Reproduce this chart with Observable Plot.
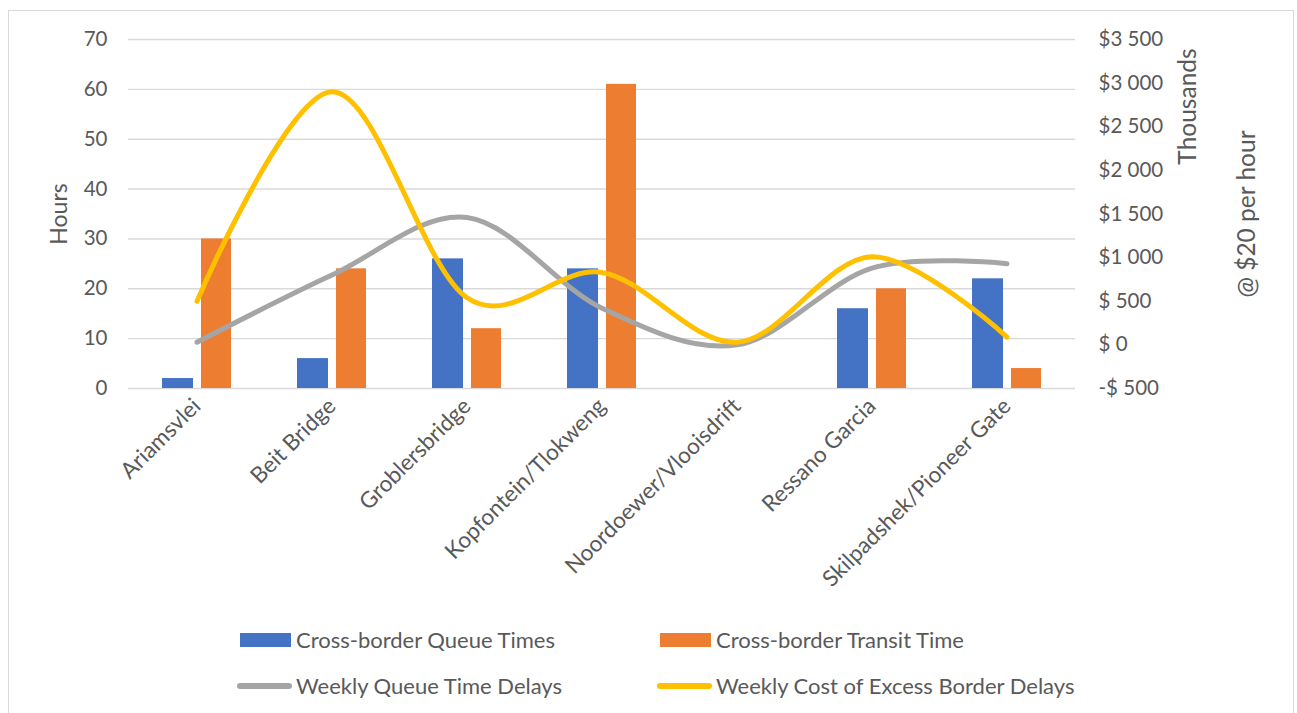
<!DOCTYPE html>
<html>
<head>
<meta charset="utf-8">
<script src="https://cdn.jsdelivr.net/npm/d3@7"></script>
<script src="https://cdn.jsdelivr.net/npm/@observablehq/plot@0.6"></script>
<style>
  html, body { margin: 0; padding: 0; background: #fff; }
  #wrap { position: relative; width: 1297px; height: 713px; overflow: hidden; font-family: Lato, "Open Sans", sans-serif; color: #595959; }
  #frame { position: absolute; left: 8px; top: 10px; width: 1286px; height: 720px; border: 1px solid #d9d9d9; box-sizing: border-box; }
  #chart { position: absolute; left: 0; top: 0; }
  .lg { position: absolute; font-size: 22px; line-height: 26px; white-space: nowrap; }
  .sw { position: absolute; }
</style>
</head>
<body>
<div id="wrap">
  <div id="frame"></div>
  <div id="chart"></div>
  <div id="legend"></div>
</div>
<script>
const categories = ["Ariamsvlei", "Beit Bridge", "Groblersbridge", "Kopfontein/Tlokweng", "Noordoewer/Vlooisdrift", "Ressano Garcia", "Skilpadshek/Pioneer Gate"];
const queueTimes = [2, 6, 26, 24, 0, 16, 22];          // hours
const transitTimes = [30, 24, 12, 61, 0, 20, 4];       // hours
const weeklyQueueDelays = [30, 800, 1460, 420, 0, 880, 930];   // $ thousands (right axis)
const weeklyCost = [500, 2900, 540, 830, 30, 1010, 90];       // $ thousands (right axis)
const hourTicks = [0, 10, 20, 30, 40, 50, 60, 70];
const dollarTicks = [-500, 0, 500, 1000, 1500, 2000, 2500, 3000, 3500];
const dollarTickLabels = ["-$ 500", "$ 0", "$ 500", "$1 000", "$1 500", "$2 000", "$2 500", "$3 000", "$3 500"];
const seriesNames = ["Cross-border Queue Times", "Cross-border Transit Time", "Weekly Queue Time Delays", "Weekly Cost of Excess Border Delays"];
const seriesColors = ["#4472C4", "#ED7D31", "#A5A5A5", "#FFC000"];

const hourDomain = [0, 70];
const dollarDomain = [-500, 3500];
const toHours = d => (d - dollarDomain[0]) * (hourDomain[1] - hourDomain[0]) / (dollarDomain[1] - dollarDomain[0]) + hourDomain[0];
const fromHours = h => (h - hourDomain[0]) * (dollarDomain[1] - dollarDomain[0]) / (hourDomain[1] - hourDomain[0]) + dollarDomain[0];

const rows = categories.map((c, i) => ({
  category: c,
  queue: queueTimes[i],
  transit: transitTimes[i],
  delays: weeklyQueueDelays[i],
  cost: weeklyCost[i]
}));

const chart = Plot.plot({
  width: 1297,
  height: 600,
  marginTop: 39,
  marginLeft: 128,
  marginRight: 222,
  marginBottom: 212,
  x: {domain: categories, padding: 0, axis: null},
  y: {domain: hourDomain, axis: null},
  style: {fontFamily: "Lato, 'Open Sans', sans-serif", fontSize: "20.5px", color: "#595959", background: "transparent", overflow: "visible"},
  marks: [
    Plot.ruleY(hourTicks, {stroke: "#d9d9d9", strokeWidth: 1.4}),
    Plot.barY(rows, {x: "category", y: "queue", fill: seriesColors[0], insetLeft: 33, insetRight: 71}),
    Plot.barY(rows, {x: "category", y: "transit", fill: seriesColors[1], insetLeft: 72, insetRight: 33}),
    Plot.line(rows, {x: "category", y: d => toHours(d.delays), stroke: seriesColors[2], strokeWidth: 5, curve: "cardinal"}),
    Plot.line(rows, {x: "category", y: d => toHours(d.cost), stroke: seriesColors[3], strokeWidth: 5, curve: "cardinal"}),
    Plot.axisY({ticks: hourTicks, tickSize: 0, tickPadding: 21, label: null, fontSize: 20.5}),
    Plot.axisY({
      anchor: "right",
      ticks: dollarTicks.map(toHours),
      tickFormat: h => dollarTickLabels[dollarTicks.indexOf(Math.round(fromHours(h)))],
      tickSize: 0, tickPadding: 23, label: null, fontSize: 20.5
    }),
    Plot.axisX({tickRotate: -45, tickSize: 0, tickPadding: 14, label: null, fontSize: 22.5}),
    Plot.text(["Hours"], {frameAnchor: "left", dx: -69, rotate: -90, textAnchor: "middle", lineAnchor: "middle", fontSize: 23}),
    Plot.text(["Thousands"], {frameAnchor: "top-right", dx: 113, dy: 67, rotate: -90, textAnchor: "middle", lineAnchor: "middle", fontSize: 24.5}),
    Plot.text(["@ $20 per hour"], {frameAnchor: "right", dx: 172, rotate: -90, textAnchor: "middle", lineAnchor: "middle", fontSize: 24.5})
  ]
});
document.getElementById("chart").appendChild(chart);

// Legend (HTML, below the SVG)
const legend = document.getElementById("legend");
const lgSpec = [
  {i: 0, sx: 240, tx: 296, y: 640, kind: "rect"},
  {i: 1, sx: 660, tx: 716, y: 640, kind: "rect"},
  {i: 2, sx: 237, tx: 296, y: 686, kind: "line"},
  {i: 3, sx: 657, tx: 716, y: 686, kind: "line"}
];
lgSpec.forEach(s => {
  const sw = document.createElement("div");
  sw.className = "sw";
  sw.style.background = seriesColors[s.i];
  if (s.kind === "rect") {
    sw.style.left = s.sx + "px"; sw.style.width = "51px";
    sw.style.top = (s.y - 7) + "px"; sw.style.height = "14px";
  } else {
    sw.style.left = s.sx + "px"; sw.style.width = "55px";
    sw.style.top = (s.y - 3) + "px"; sw.style.height = "6px";
    sw.style.borderRadius = "3px";
  }
  legend.appendChild(sw);
  const t = document.createElement("div");
  t.className = "lg";
  t.textContent = seriesNames[s.i];
  t.style.left = s.tx + "px";
  t.style.top = (s.y - 13) + "px";
  legend.appendChild(t);
});
</script>
</body>
</html>
